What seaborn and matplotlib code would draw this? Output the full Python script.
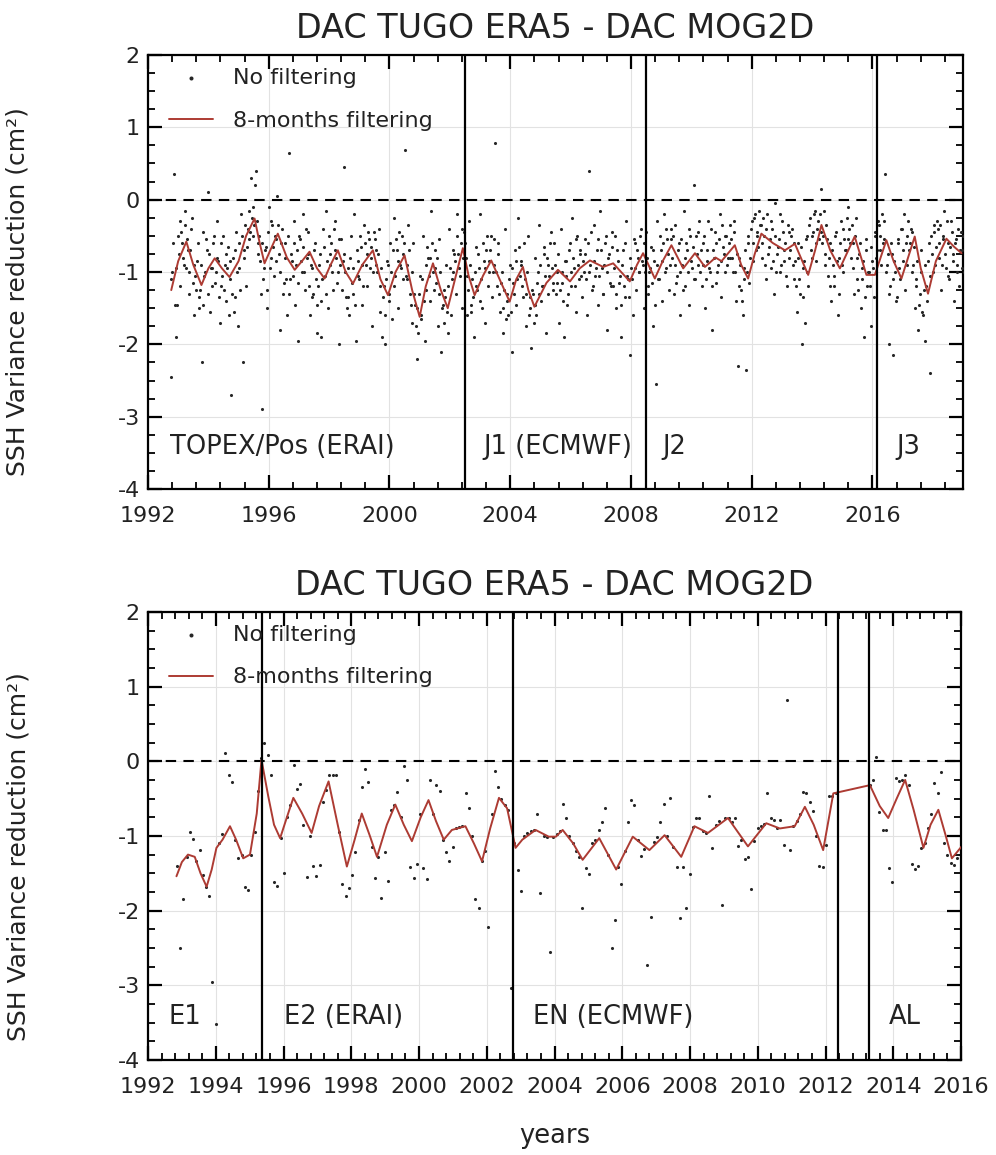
import numpy as np
import pandas as pd
import matplotlib
matplotlib.use("Agg")
import matplotlib.pyplot as plt
from matplotlib.ticker import MultipleLocator
import seaborn as sns

# ---------------- top panel: TOPEX/Poseidon + Jason series ----------------
TOP_T0 = 1992.75      # first (even) cycle plotted
TOP_STEP = 0.0543     # two 9.9156-day cycles, in years
TOP_ODD_SHIFT = 0.0271
top_raw_even = [
    -2.45, -1.0, 0.35, -1.9, -1.45, -0.75, -0.3, -0.6, -0.9, -0.15, -0.55, -1.3, -0.7, -0.25, -1.6, -1.05, -0.85, -1.35,
    -1.25, -2.25, -0.45, -1.0, -0.7, 0.1, -1.55, -0.95, -0.6, -1.15, -0.3, -0.85, -1.7, -1.2, -0.5, -0.9, -1.4, -0.65,
    -1.1, -2.7, -0.8, -1.35, -0.45, -1.75, -0.95, -0.2, -2.25, -0.7, -1.2, -0.4, -0.55, 0.3, -0.1, -0.35, 0.4, -0.6,
    -0.5, -1.3, -2.9, -0.95, -0.65, -1.5, -0.1, -0.8, -0.35, -1.05, -0.55, 0.05, -0.75, -1.8, -0.4, -1.15, -0.6, -1.6,
    0.65, -1.1, -0.85, -0.3, -1.45, -0.7, -1.95, -0.55, -1.0, -0.2, -1.25, -0.8, -0.45, -1.6, -0.95, -1.3, -0.6, -1.85,
    -1.2, -0.75, -1.9, -0.4, -1.05, -0.15, -1.5, -0.9, -0.6, -1.25, -0.3, -0.8, -1.0, -2.0, -0.55, -0.85, 0.45, -1.35,
    -0.95, -1.6, -0.5, -1.3, -0.2, -1.95, -0.85, -1.1, -0.65, -1.45, -0.35, -0.9, -1.2, -0.55, -0.8, -1.75, -0.45, -0.7,
    -1.0, -0.4, -1.55, -1.9, -1.2, -2.0, -0.85, -1.4, -0.6, -1.65, -0.25, -1.05, -0.7, -1.5, -0.9, -0.5, -1.1, 0.68,
    -0.9, -0.35, -1.3, -1.7, -0.6, -1.45, -2.2, -1.85, -1.05, -1.6, -0.5, -1.95, -1.25, -0.8, -1.4, -0.15, -1.0, -0.7,
    -1.15, -1.75, -0.55, -2.1, -1.45, -1.25, -0.9, -1.85, -0.4, -1.6, -1.0, -0.75, -1.3, -0.2, -0.95, -0.6, -1.5, -0.45,
    -0.8, -1.6, -0.3, -1.45, -1.1, -1.9, -0.65, -1.25, -0.95, -0.2, -1.5, -0.85, -1.7, -0.5, -1.0, -0.7, -1.35, -0.55,
    0.78, -1.2, -0.6, -1.55, -1.0, -1.85, -0.4, -1.3, -1.6, -0.9, -2.1, -1.15, -0.7, -1.45, -0.25, -1.05, -0.85, -1.35,
    -1.1, -1.75, -0.5, -1.5, -2.05, -1.3, -0.8, -1.6, -1.0, -0.35, -1.4, -1.2, -0.65, -1.85, -0.9, -1.05, -0.45, -1.25,
    -0.6, -1.3, -1.0, -1.7, -0.4, -1.15, -1.9, -0.85, -1.45, -0.7, -1.2, -0.25, -0.95, -1.55, -0.5, -1.1, -0.75, -1.35,
    -1.0, -0.55, -1.6, 0.4, -0.9, -1.25, -0.35, -1.05, -0.7, -1.45, -0.15, -0.95, -1.3, -0.6, -1.8, -0.8, -1.15, -0.45,
    -1.2, -0.5, -1.5, -0.85, -1.05, -1.9, -0.7, -1.35, -0.3, -1.1, -2.15, -0.95, -1.6, -0.6, -1.25, -0.8, -1.0, -0.4,
    -0.9, -1.5, -0.45, -1.2, -1.0, -0.65, -1.75, -0.85, -2.55, -0.3, -1.1, -0.7, -1.4, -0.2, -0.95, -0.55, -1.25, -0.4,
    -0.8, -1.3, -0.35, -1.05, -0.6, -1.6, -0.9, -0.15, -1.2, -0.7, -1.45, -0.5, -0.95, 0.2, -1.1, -0.75, -0.45, -1.0,
    -1.2, -0.6, -1.5, -0.85, -0.3, -1.0, -1.8, -0.7, -0.45, -1.15, -0.9, -0.2, -1.35, -0.65, -1.0, -0.5, -0.8, -0.35,
    -0.55, -1.0, -0.3, -1.4, -2.3, -0.8, -1.25, -1.6, -0.95, -2.35, -0.6, -1.15, -0.4, -0.85, -0.25, -0.7, -0.45, -0.15,
    -0.35, -0.8, -0.5, -1.1, -0.2, -0.65, -0.95, -0.4, -1.3, -0.05, -0.75, -0.55, -1.0, -0.3, -0.85, -0.6, -1.2, -0.45,
    -0.7, -0.4, -1.1, -0.85, -1.55, -0.6, -1.3, -2.0, -0.95, -1.7, -0.5, -1.2, -0.25, -0.8, -0.45, -0.15, -0.6, -0.3,
    -0.2, 0.15, -0.5, -0.75, -0.35, -1.05, -0.6, -1.4, -0.9, -1.2, -0.45, -1.6, -0.8, -0.3, -1.0, -0.55, -0.7, -0.1,
    -0.4, -0.8, -0.6, -1.3, -0.25, -1.1, -0.75, -1.5, -0.95, -1.9, -0.55, -1.2, -1.0, -1.75, -0.85, -1.35, -0.5, -0.7,
    -0.35, -0.7, -0.2, -0.55, 0.35, -0.9, -2.0, -1.2, -0.75, -2.15, -1.0, -1.35, -0.6, -1.1, -0.4, -0.85, -1.25, -0.5,
    -0.3, -0.6, -0.45, -0.9, -1.5, -1.1, -1.8, -1.3, -0.7, -1.6, -1.95, -1.2, -0.85, -2.4, -0.5, -1.0, -0.35, -0.65,
    -0.4, -0.8, -1.25, -0.5, -0.15, -0.95, -0.6, -1.1, -0.3, -0.75, -1.4, -0.55, -0.9, -1.2, -0.45, -0.7, -1.0, -0.85,
]
top_raw_odd = [
    -1.1, -0.6, -1.45, -0.95, -0.5, -1.2, -0.45, -0.8, -0.35, -0.95, -0.7, -1.0, -0.4, -1.15, -0.9, -1.25, -0.6, -1.5,
    -0.9, -1.45, -1.05, -0.55, -1.3, -0.75, -0.95, -1.2, -0.5, -1.0, -0.8, -1.35, -0.6, -1.05, -1.25, -0.75, -0.95, -1.6,
    -0.85, -1.3, -1.55, -0.7, -1.0, -0.6, -1.25, -0.5, -0.8, -0.35, -0.65, -0.15, -0.45, -0.25, -0.5, 0.2, -0.3, -0.75,
    -0.85, -0.6, -1.1, -0.7, -1.25, -0.45, -0.95, -0.3, -0.65, -0.5, -0.85, -0.35, -1.0, -0.6, -1.3, -0.8, -1.1, -0.5,
    -1.3, -0.75, -1.05, -0.6, -0.9, -1.15, -0.5, -0.85, -0.65, -1.0, -0.4, -0.75, -1.2, -0.9, -1.35, -0.7, -1.1, -1.45,
    -0.9, -1.4, -1.1, -0.65, -1.3, -0.85, -0.5, -0.75, -1.0, -0.4, -0.7, -1.15, -0.55, -0.9, -1.25, -0.75, -1.0, -1.5,
    -1.35, -0.8, -1.15, -0.95, -1.45, -0.7, -1.05, -0.5, -0.9, -1.2, -0.6, -0.75, -0.45, -0.95, -0.65, -1.0, -0.55, -0.9,
    -0.75, -1.2, -0.95, -1.35, -1.6, -1.1, -0.9, -1.3, -1.0, -0.7, -1.2, -0.55, -0.85, -0.45, -0.95, -0.75, -0.6, -1.05,
    -1.1, -0.7, -1.45, -1.0, -1.3, -1.75, -1.5, -1.3, -1.65, -1.1, -1.4, -0.9, -0.65, -1.05, -0.8, -0.6, -1.25, -0.95,
    -0.8, -1.3, -1.0, -1.5, -1.7, -1.35, -1.55, -1.2, -0.95, -1.1, -0.7, -0.85, -0.5, -0.75, -1.05, -0.4, -0.8, -0.6,
    -1.05, -1.25, -0.9, -1.55, -1.35, -1.0, -1.2, -0.75, -1.4, -1.1, -0.6, -0.95, -0.7, -1.2, -0.85, -0.5, -1.0, -0.9,
    -1.0, -0.75, -1.3, -1.15, -1.5, -1.25, -1.65, -1.4, -1.1, -1.55, -0.95, -1.3, -0.85, -1.1, -0.65, -0.9, -1.2, -0.6,
    -1.3, -1.0, -1.6, -1.35, -1.25, -1.7, -1.45, -1.15, -1.3, -0.9, -1.2, -0.75, -1.05, -0.8, -1.3, -0.6, -0.95, -1.15,
    -0.9, -1.15, -0.75, -1.25, -1.0, -1.4, -0.85, -1.05, -1.3, -0.6, -1.0, -0.8, -1.2, -0.55, -0.9, -0.7, -1.05, -0.85,
    -0.75, -1.1, -0.6, -1.0, -0.45, -1.2, -0.85, -0.95, -0.55, -1.05, -0.7, -1.3, -0.9, -0.5, -1.0, -0.75, -1.2, -0.65,
    -0.95, -1.3, -0.7, -1.15, -1.45, -0.9, -1.2, -0.6, -1.05, -1.35, -0.8, -1.1, -0.55, -0.95, -0.7, -1.0, -0.5, -0.85,
    -0.6, -1.0, -0.8, -1.3, -0.95, -1.15, -0.7, -1.45, -0.9, -1.1, -0.5, -0.85, -0.6, -1.0, -0.4, -0.75, -0.9, -0.55,
    -0.5, -0.9, -1.15, -0.7, -1.0, -0.55, -1.25, -0.8, -0.6, -1.0, -0.4, -0.85, -0.65, -1.1, -0.5, -0.9, -0.3, -0.7,
    -0.9, -0.5, -1.1, -0.7, -0.95, -0.4, -1.2, -0.8, -0.6, -1.0, -0.55, -0.85, -0.35, -0.75, -0.5, -0.9, -0.6, -0.8,
    -0.8, -0.45, -1.0, -0.75, -1.2, -0.9, -1.4, -1.1, -0.7, -1.0, -0.5, -0.8, -0.3, -0.6, -0.2, -0.5, -0.65, -0.35,
    -0.6, -0.25, -0.9, -0.4, -0.75, -0.55, -0.3, -0.85, -0.5, -1.0, -0.65, -0.2, -0.9, -0.45, -0.7, -1.05, -0.35, -0.8,
    -0.5, -0.9, -0.6, -1.2, -0.8, -1.1, -0.65, -1.35, -0.85, -0.55, -1.0, -0.35, -0.7, -0.5, -0.2, -0.85, -0.4, -0.55,
    -0.45, -0.6, -0.15, -0.9, -0.55, -0.8, -1.2, -0.7, -1.05, -0.5, -0.85, -1.3, -0.6, -0.9, -0.4, -0.7, -0.25, -0.55,
    -0.6, -0.35, -0.95, -0.5, -0.8, -1.25, -0.6, -1.1, -0.85, -1.35, -0.7, -1.0, -1.2, -0.65, -0.95, -0.45, -0.8, -0.3,
    -0.5, -0.9, -0.6, -0.3, -1.0, -0.75, -1.3, -0.6, -1.1, -0.85, -1.4, -0.55, -0.95, -0.4, -0.7, -0.2, -0.6, -0.9,
    -0.7, -0.4, -1.0, -0.65, -1.2, -0.85, -1.45, -1.0, -1.55, -1.25, -0.9, -1.4, -0.6, -1.05, -0.75, -0.45, -0.9, -0.3,
    -0.6, -0.35, -0.9, -0.55, -0.75, -0.3, -1.05, -0.65, -0.45, -0.85, -0.6, -1.0, -0.4, -0.7, -0.95, -0.5, -0.8, -0.65,
]
top_filt_years = [
    1992.77, 1993.0, 1993.27, 1993.5, 1993.77, 1994.0, 1994.21, 1994.45, 1994.70, 1995.0,
    1995.25, 1995.53, 1995.7, 1995.86, 1996.05, 1996.30, 1996.6, 1996.86, 1997.1, 1997.35,
    1997.6, 1997.85, 1998.05, 1998.29, 1998.55, 1998.79, 1999.1, 1999.45, 1999.7, 1999.95,
    2000.2, 2000.50, 2000.75, 2001.00, 2001.2, 2001.44, 2001.7, 2001.93, 2002.2, 2002.43,
    2002.62, 2002.82, 2003.1, 2003.37, 2003.7, 2003.98, 2004.2, 2004.42, 2004.6, 2004.80,
    2005.2, 2005.58, 2005.98, 2006.3, 2006.64, 2007.08, 2007.41, 2007.96, 2008.2, 2008.40,
    2008.79, 2009.05, 2009.34, 2009.73, 2010.12, 2010.45, 2010.8, 2011.0, 2011.44, 2011.65,
    2011.88, 2012.1, 2012.32, 2012.7, 2013.10, 2013.43, 2013.87, 2014.1, 2014.31, 2014.6,
    2014.92, 2015.41, 2015.80, 2016.08, 2016.46, 2016.7, 2016.96, 2017.40, 2017.6, 2017.84,
    2018.1, 2018.45, 2018.7, 2018.95,
]
top_filt = [
    -1.25, -0.85, -0.58, -0.9, -1.18, -0.95, -0.81, -0.95, -1.07, -0.85,
    -0.5, -0.26, -0.6, -0.88, -0.7, -0.47, -0.8, -0.97, -0.85, -0.72,
    -0.95, -1.09, -0.9, -0.70, -1.0, -1.16, -0.9, -0.70, -1.1, -1.32,
    -1.0, -0.77, -1.25, -1.62, -1.2, -0.88, -1.25, -1.50, -1.05, -0.67,
    -1.05, -1.32, -1.05, -0.84, -1.15, -1.41, -1.1, -0.93, -1.25, -1.48,
    -1.15, -0.97, -1.13, -0.95, -0.84, -0.93, -0.88, -1.13, -0.9, -0.74,
    -1.09, -0.85, -0.63, -0.95, -0.74, -0.93, -0.8, -0.85, -0.63, -0.9,
    -1.09, -0.75, -0.47, -0.6, -0.70, -0.61, -1.04, -0.7, -0.35, -0.7,
    -0.95, -0.51, -1.04, -1.04, -0.56, -0.85, -1.09, -0.51, -0.95, -1.30,
    -0.85, -0.54, -0.65, -0.74,
]
top_changes = [2002.5, 2008.5, 2016.15]
top_missions = ["TOPEX/Pos (ERAI)", "J1 (ECMWF)", "J2", "J3"]
top_mission_x = [1992.72, 2003.1, 2009.05, 2016.8]

# ---------------- bottom panel: ERS / Envisat / AltiKa series ----------------
BOT_STEP = 0.0958     # 35-day cycle, in years
ERS_T0 = 1992.85
ers_env_raw = [
    -1.40, -2.50, -1.84, -1.28, -0.95, -1.04, -1.33, -1.19, -1.52, -1.68,
    -1.80, -2.95, -3.52, -1.10, -0.98, 0.11, -0.18, -0.28, -1.05, -1.30,
    -1.25, -1.68, -1.72, -1.25, -0.95, -0.40, 0.05, 0.24, 0.09, -0.19,
    -1.62, -1.67, -1.03, -1.49, -0.75, -0.58, -0.05, -0.37, -0.31, -0.85,
    -1.55, -1.00, -1.40, -1.53, -1.39, -0.55, -0.38, -0.18, -0.18, -0.18,
    -0.95, -1.65, -1.81, -1.70, -1.52, -1.22, -0.78, -0.35, -0.11, -0.28,
    -1.15, -1.57, -1.28, -1.83, -1.21, -1.60, -0.65, -0.58, -0.41, -0.75,
    -0.06, -0.25, -1.41, -1.57, -1.38, -0.70, -1.43, -1.58, -0.25, -0.70,
    -0.32, -0.40, -1.05, -1.21, -1.33, -1.15, -0.90, -0.88, -0.87, -0.42,
    -0.62, -1.00, -1.85, -1.97, -1.34, -1.20, -2.22, -0.70, -0.13, -0.34,
    -0.50, -0.58, -0.65, -3.04, -1.10, -1.45, -1.74, -1.00, -0.96, -0.93,
    -0.92, -0.70, -1.77, -1.00, -1.01, -2.55, -1.01, -0.98, -0.94, -0.57,
    -0.76, -1.00, -1.10, -1.20, -1.28, -1.97, -1.43, -1.51, -1.10, -1.05,
    -0.92, -0.81, -0.63, -1.25, -2.50, -2.12, -1.42, -1.65, -1.20, -0.81,
    -0.52, -0.58, -1.05, -1.27, -1.18, -2.73, -2.09, -1.08, -1.02, -0.81,
    -0.57, -1.00, -0.49, -1.15, -1.42, -2.10, -1.41, -1.97, -1.51, -0.88,
    -0.76, -0.76, -0.93, -0.96, -0.47, -1.16, -0.85, -0.80, -1.92, -0.76,
    -0.76, -0.81, -0.76, -1.13, -1.05, -1.31, -1.28, -1.71, -1.07, -0.90,
    -0.87, -0.84, -0.42, -0.76, -0.78, -0.90, -0.78, -1.12, 0.82, -1.19,
    -0.87, -0.80, -0.70, -0.41, -0.43, -0.54, -0.66, -1.00, -1.40, -1.41,
    -1.12, -0.47, -0.47, -0.43,
]
AL_T0 = 2013.30
altika_raw = [
    -0.32, -0.25, 0.06, -0.68, -0.92, -0.92, -1.43, -1.62, -0.23, -0.26,
    -0.25, -0.18, -0.32, -1.38, -1.44, -1.40, -1.16, -1.10, -0.90, -0.70,
    -0.29, -0.43, -0.15, -1.10, -1.25, -1.36, -1.39, -1.30,
]
bot_filt_years = [
    1992.84, 1993.0, 1993.18, 1993.38, 1993.55, 1993.73, 1993.88, 1994.02, 1994.2, 1994.42,
    1994.6, 1994.81, 1995.01, 1995.21, 1995.35, 1995.55, 1995.72, 1995.90, 1996.1, 1996.29,
    1996.55, 1996.83, 1997.05, 1997.33, 1997.6, 1997.87, 1998.1, 1998.31, 1998.55, 1998.76,
    1999.05, 1999.30, 1999.55, 1999.79, 2000.05, 2000.28, 2000.5, 2000.73, 2000.97, 2001.37,
    2001.62, 2001.86, 2002.1, 2002.36, 2002.60, 2002.85, 2003.05, 2003.44, 2003.83, 2004.04,
    2004.24, 2004.55, 2004.83, 2005.32, 2005.82, 2006.31, 2006.80, 2007.25, 2007.74, 2008.13,
    2008.53, 2009.12, 2009.71, 2010.25, 2010.65, 2011.09, 2011.39, 2011.65, 2011.93, 2012.23,
    2013.31, 2013.6, 2013.85, 2014.1, 2014.35, 2014.6, 2014.89, 2015.1, 2015.33, 2015.55,
    2015.73, 2016.02,
]
bot_filt = [
    -1.54, -1.35, -1.25, -1.28, -1.5, -1.68, -1.45, -1.16, -1.05, -0.87,
    -1.05, -1.30, -1.25, -0.70, 0.02, -0.47, -0.85, -1.03, -0.75, -0.49,
    -0.7, -0.96, -0.6, -0.27, -0.85, -1.41, -1.05, -0.70, -1.0, -1.28,
    -0.85, -0.58, -0.85, -1.07, -0.75, -0.52, -0.8, -1.05, -0.92, -0.87,
    -1.1, -1.34, -0.9, -0.49, -0.63, -1.16, -1.05, -0.92, -1.01, -1.01,
    -0.92, -1.1, -1.32, -1.03, -1.45, -1.01, -1.19, -0.99, -1.28, -0.87,
    -0.96, -0.76, -1.14, -0.83, -0.90, -0.87, -0.61, -0.85, -1.19, -0.43,
    -0.32, -0.6, -0.76, -0.5, -0.25, -0.65, -1.16, -0.85, -0.65, -1.0,
    -1.30, -1.14,
]
bot_changes = [1995.37, 2002.77, 2012.38, 2013.27]
bot_missions = ["E1", "E2 (ERAI)", "EN (ECMWF)", "AL"]
bot_mission_x = [1992.6, 1996.0, 2003.36, 2013.86]

TITLE = "DAC TUGO ERA5 - DAC MOG2D"
YLABEL = "SSH Variance reduction (cm\u00b2)"

sns.set_style("ticks")
plt.rcParams["font.family"] = ["DejaVu Sans"]
plt.rcParams["axes.unicode_minus"] = False

line_col = "#ad3b33"


def draw_panel(ax, raw, filt, changes, missions, mission_x, xmax, major, minor):
    sns.scatterplot(data=raw, x="year", y="ssh", ax=ax, color="#262626",
                    s=5, linewidth=0, label="No filtering", zorder=3)
    sns.lineplot(data=filt, x="year", y="ssh", ax=ax, color=line_col, lw=1.4,
                 sort=False, estimator=None, label="8-months filtering", zorder=4)
    ax.axhline(0, color="black", ls=(0, (5, 3.5)), lw=1.5, zorder=2)
    for c in changes:
        ax.axvline(c, color="black", lw=1.6, zorder=5)
    for name, x in zip(missions, mission_x):
        ax.text(x, -3.42, name, fontsize=18.5, va="center", ha="left", color="#222222")

    ax.set_xlim(1992, xmax)
    ax.set_ylim(-4, 2)
    ax.xaxis.set_major_locator(MultipleLocator(major))
    ax.xaxis.set_minor_locator(MultipleLocator(minor))
    ax.yaxis.set_major_locator(MultipleLocator(1))
    ax.yaxis.set_minor_locator(MultipleLocator(0.25))
    ax.set_yticks([-4, -3, -2, -1, 0, 1, 2], ["-4", "-3", "-2", "-1", "0", "1", "2"])
    ax.grid(True, which="major", color="#e2e2e2", lw=0.8)
    ax.tick_params(which="both", direction="in", top=True, right=True, colors="black",
                   labelsize=16, labelcolor="#222222")
    ax.tick_params(which="major", length=10, width=1.6)
    ax.tick_params(which="minor", length=5, width=1.3)
    ax.tick_params(axis="x", which="major", pad=12)
    ax.tick_params(axis="y", which="major", pad=6)
    for sp in ax.spines.values():
        sp.set_linewidth(1.6)
        sp.set_color("black")
    ax.set_title(TITLE, fontsize=24, pad=12, color="#222222")
    ax.set_ylabel(YLABEL, fontsize=18, color="#222222")
    ax.yaxis.set_label_coords(-0.145, 0.455)
    ax.set_xlabel("")
    ax.legend(loc="upper left", bbox_to_anchor=(0.009, 1.0), frameon=False,
              fontsize=16, handlelength=2.0, handletextpad=0.9, labelspacing=1.0,
              markerscale=1.3, borderaxespad=0.2, labelcolor="#222222")


top_years = np.concatenate([
    TOP_T0 + TOP_STEP * np.arange(len(top_raw_even)),
    TOP_T0 + TOP_ODD_SHIFT + TOP_STEP * np.arange(len(top_raw_odd)),
])
top_df = pd.DataFrame({"year": top_years, "ssh": top_raw_even + top_raw_odd})
top_line = pd.DataFrame({"year": top_filt_years, "ssh": top_filt})

ers_years = ERS_T0 + BOT_STEP * np.arange(len(ers_env_raw))
al_years = AL_T0 + BOT_STEP * np.arange(len(altika_raw))
bot_df = pd.DataFrame({"year": np.concatenate([ers_years, al_years]),
                       "ssh": ers_env_raw + altika_raw})
bot_line = pd.DataFrame({"year": bot_filt_years, "ssh": bot_filt})

fig = plt.figure(figsize=(9.96, 11.55), dpi=100)
ax1 = fig.add_axes([0.1486, 0.5766, 0.8183, 0.3758])
ax2 = fig.add_axes([0.1486, 0.0823, 0.8163, 0.3879])

draw_panel(ax1, top_df, top_line, top_changes, top_missions, top_mission_x, 2019, 4, 0.8)
draw_panel(ax2, bot_df, bot_line, bot_changes, bot_missions, bot_mission_x, 2016, 2, 0.4)

ax2.set_xlabel("years", fontsize=18.5, color="#222222")
ax2.xaxis.set_label_coords(0.5, -0.14)

fig.savefig("out.png", dpi=100, facecolor="white")
